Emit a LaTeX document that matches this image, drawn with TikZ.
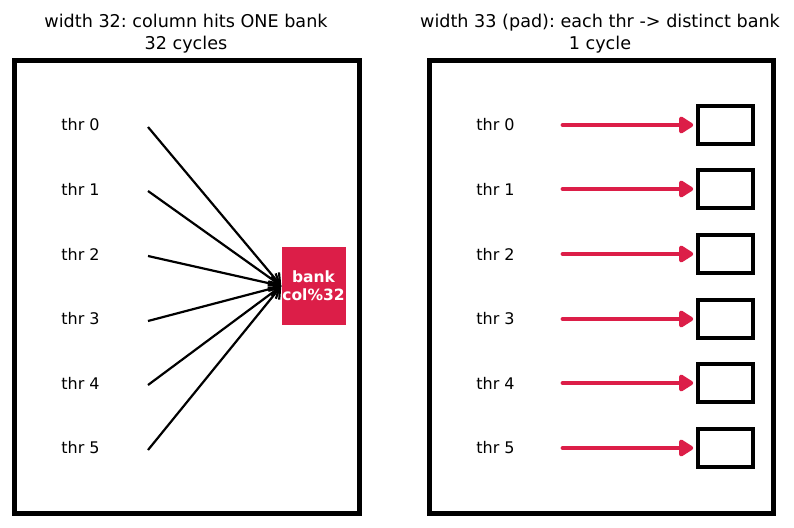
\documentclass[tikz,border=0pt]{standalone}
\usepackage{fontspec}
\setmainfont{DejaVu Sans}
\usetikzlibrary{arrows.meta}
\definecolor{crim}{RGB}{220,30,72}
\frenchspacing
\tikzset{
  panel/.style={draw=black,line width=5pt},
  title/.style={align=center,font=\fontsize{17.6}{22}\selectfont,inner sep=0pt},
  thr/.style={font=\fontsize{16}{18}\selectfont,inner sep=0pt},
  conf/.style={draw=black,line width=2.2pt,-{Straight Barb[length=10pt,width=14pt,line width=2.2pt]}},
  good/.style={draw=crim,line width=4.8pt,line cap=round,shorten >=3pt,-{Triangle[length=16pt,width=19pt,round]}},
  slot/.style={draw=black,line width=3.6pt,minimum width=55pt,minimum height=38pt,inner sep=0pt},
  bank/.style={fill=crim,minimum width=64pt,minimum height=78pt,inner sep=0pt,text=white,align=center,font=\fontsize{15.5}{18}\selectfont\bfseries}
}
\begin{document}
\begin{tikzpicture}[x=1pt,y=-1pt]
\useasboundingbox (0,0) rectangle (794,527);
\node[title] (t1) at (186,34) {width 32: column hits ONE bank\\32 cycles};
\node[title] (t2) at (600,34) {width 33 (pad): each thr -> distinct bank\\1 cycle};
\draw[panel] (14,60) rectangle (359,513);
\draw[panel] (429,60) rectangle (773,513);
\node[bank] (bank) at (313.5,286) {bank\\col\%32};
\foreach \i/\y in {0/125,1/189,2/254,3/319,4/383,5/448}{
  \node[thr] (l\i) at (80.5,\y) {thr \i};
  \coordinate (s\i) at (148,\y+2);
  \draw[conf] (s\i) -- (bank.west);
  \node[thr] (r\i) at (495.5,\y) {thr \i};
  \coordinate (u\i) at (563,\y);
  \node[slot] (b\i) at (725.5,\y) {};
  \draw[good] (u\i) -- (b\i.west);
}
\end{tikzpicture}
\end{document}
